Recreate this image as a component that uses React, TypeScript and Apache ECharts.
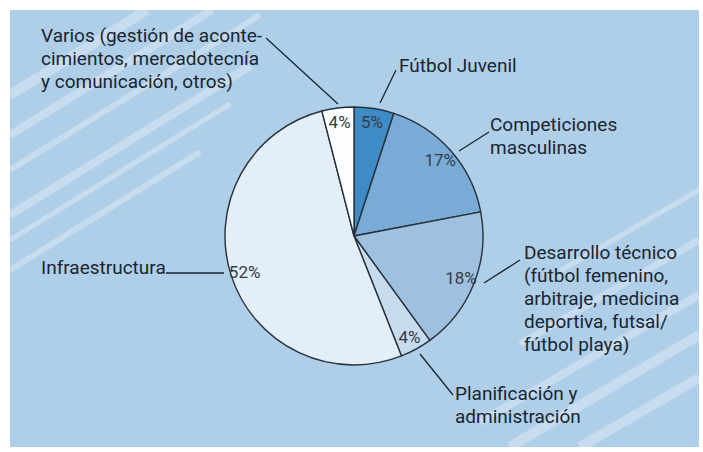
import React, { useEffect, useRef } from "react";
import * as echarts from "echarts";

const categories = [
  "Fútbol Juvenil",
  "Competiciones\nmasculinas",
  "Desarrollo técnico\n(fútbol femenino,\narbitraje, medicina\ndeportiva, futsal/\nfútbol playa)",
  "Planificación y\nadministración",
  "Infraestructura",
  "Varios (gestión de aconte-\ncimientos, mercadotecnía\ny comunicación, otros)",
];
const shares = [5, 17, 18, 4, 52, 4];
const sliceColors = ["#3f8bc5", "#7aabd6", "#9fc0df", "#c6dbed", "#e3eef7", "#fbfdff"];

// annotation placement (not data)
const labelPlacement = [
  { x: 399, y: 65, line: [[396, 70], [380, 103]] },
  { x: 490, y: 135.5, line: [[489, 132], [459, 151]] },
  { x: 524, y: 298, line: [[520, 260], [484, 283]] },
  { x: 455, y: 404.5, line: [[420, 354], [453, 395]] },
  { x: 41, y: 267, line: [[166, 273], [224, 273]] },
  { x: 41, y: 58, line: [[266, 38], [338, 104]] },
];

// decorative stripes [x1, y1, x2, y2, width]
const stripes = [
  [10, 95, 147, 10, 10],
  [10, 135, 212, 10, 8],
  [10, 170, 260, 15, 6],
  [10, 215, 250, 66, 8],
  [10, 240, 230, 104, 5],
  [10, 270, 200, 152, 6],
  [699, 190, 560, 271, 5],
  [699, 240, 520, 344, 7],
  [699, 295, 480, 422, 8],
  [699, 335, 510, 447, 10],
  [699, 378, 580, 447, 10],
];

const FONT = "Roboto, 'Liberation Sans', sans-serif";

export default function App() {
  const ref = useRef<HTMLDivElement>(null);
  useEffect(() => {
    document.body.style.margin = "0";
    document.body.style.overflow = "hidden";
    const chart = echarts.init(ref.current!, null, { renderer: "svg" });
    const data = categories.map((name, i) => ({
      name,
      value: shares[i],
      itemStyle: { color: sliceColors[i] },
    }));
    chart.setOption({
      animation: false,
      backgroundColor: "#ffffff",
      graphic: {
        elements: [
          {
            type: "rect",
            shape: { x: 10, y: 10, width: 689, height: 437 },
            style: { fill: "#afcfe9" },
            z: 0,
          },
          ...stripes.map((s) => ({
            type: "line",
            shape: { x1: s[0], y1: s[1], x2: s[2], y2: s[3] },
            style: { stroke: "rgba(255,255,255,0.3)", lineWidth: s[4] },
            z: 1,
          })),
        ],
      },
      series: [
        {
          type: "pie",
          center: [354, 236],
          radius: 129,
          startAngle: 90,
          clockwise: true,
          avoidLabelOverlap: false,
          data,
          itemStyle: { borderColor: "#26313b", borderWidth: 1.4 },
          label: {
            show: true,
            position: "outside",
            formatter: "{b}",
            fontFamily: FONT,
            fontSize: 19,
            lineHeight: 23,
            color: "#1a2530",
          },
          labelLine: {
            show: true,
            lineStyle: { color: "#1a2530", width: 1.3 },
          },
          labelLayout: (p: any) => {
            const pl = labelPlacement[p.dataIndex];
            return {
              x: pl.x,
              y: pl.y,
              align: "left",
              verticalAlign: "middle",
              labelLinePoints: pl.line,
            };
          },
          emphasis: { disabled: true },
        },
        {
          type: "pie",
          center: [354, 236],
          radius: [95, 129],
          startAngle: 90,
          clockwise: true,
          silent: true,
          data: shares.map((v, i) => ({ name: "p" + i, value: v })),
          itemStyle: { color: "rgba(0,0,0,0)", borderWidth: 0 },
          label: {
            show: true,
            position: "inside",
            formatter: "{c}%",
            fontFamily: FONT,
            fontSize: 17,
            color: "#333d47",
          },
          labelLine: { show: false },
          emphasis: { disabled: true },
        },
      ],
    });
    return () => chart.dispose();
  }, []);
  return <div ref={ref} style={{ width: 703, height: 452 }} />;
}
